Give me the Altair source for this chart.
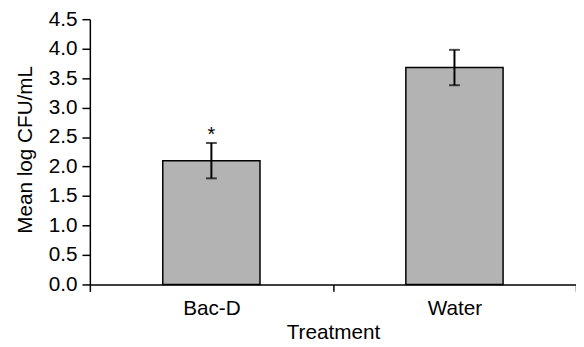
import altair as alt
import pandas as pd

treatments = ["Bac-D", "Water"]
means = [2.10, 3.68]
errors = [0.30, 0.30]
marks = ["*", ""]
y_ticks = [0.0, 0.5, 1.0, 1.5, 2.0, 2.5, 3.0, 3.5, 4.0, 4.5]

df = pd.DataFrame({
    "Treatment": treatments,
    "mean": means,
    "lo": [m - e for m, e in zip(means, errors)],
    "hi": [m + e for m, e in zip(means, errors)],
    "sig": marks,
})

FONT = "Liberation Sans"
FS = 21

x_axis = alt.Axis(
    title="Treatment",
    labelAngle=0,
    tickBand="extent",
    tickSize=7,
    tickWidth=1.5,
    tickColor="black",
    domainColor="black",
    domainWidth=1.5,
    labelFont=FONT,
    labelFontSize=FS,
    labelColor="black",
    labelBaseline="alphabetic",
    labelPadding=23,
    titleFont=FONT,
    titleFontSize=FS,
    titleFontWeight="normal",
    titleColor="black",
    titleBaseline="alphabetic",
    titleY=55,
)
x_scale = alt.Scale(paddingInner=0, paddingOuter=0)

y_scale = alt.Scale(domain=[0, 4.5], nice=False, zero=True)
y_axis = alt.Axis(
    title="Mean log CFU/mL",
    values=y_ticks,
    format=".1f",
    grid=False,
    labelOverlap=False,
    tickSize=8,
    tickWidth=1.5,
    tickColor="black",
    domainColor="black",
    domainWidth=1.5,
    labelFont=FONT,
    labelFontSize=FS,
    labelColor="black",
    labelPadding=5,
    labelFlush=False,
    titleFont=FONT,
    titleFontSize=FS,
    titleFontWeight="normal",
    titleColor="black",
    titleBaseline="alphabetic",
    titleAlign="center",
    titleX=-59,
    titleY=132,
)

base = alt.Chart(df)
xe = alt.X("Treatment:N", sort=treatments, scale=x_scale, axis=x_axis)

bars = base.mark_bar(
    width={"band": 0.4}, color="#b3b3b3", stroke="black", strokeWidth=1.5
).encode(
    x=xe,
    y=alt.Y("mean:Q", scale=y_scale, axis=y_axis),
)

rule = base.mark_rule(color="black", strokeWidth=2).encode(
    x=xe, y=alt.Y("lo:Q", scale=y_scale, axis=y_axis), y2="hi:Q"
)
cap_hi = base.mark_tick(color="black", size=11, thickness=2, orient="horizontal").encode(
    x=xe, y=alt.Y("hi:Q", scale=y_scale, axis=y_axis)
)
cap_lo = base.mark_tick(color="black", size=11, thickness=2, orient="horizontal").encode(
    x=xe, y=alt.Y("lo:Q", scale=y_scale, axis=y_axis)
)
star = base.mark_text(
    font=FONT, fontSize=20, color="black", baseline="alphabetic", dy=-2
).encode(x=xe, y=alt.Y("hi:Q", scale=y_scale, axis=y_axis), text="sig:N")

chart = (
    alt.layer(bars, rule, cap_hi, cap_lo, star)
    .properties(
        width=493,
        height=269,
        background="white",
        autosize=alt.AutoSizeParams(type="none"),
        padding={"left": 83, "top": 9, "right": 0, "bottom": 56},
    )
    .configure_view(stroke=None)
)

chart.save("out.html", embed_options={"renderer": "svg", "actions": False})
